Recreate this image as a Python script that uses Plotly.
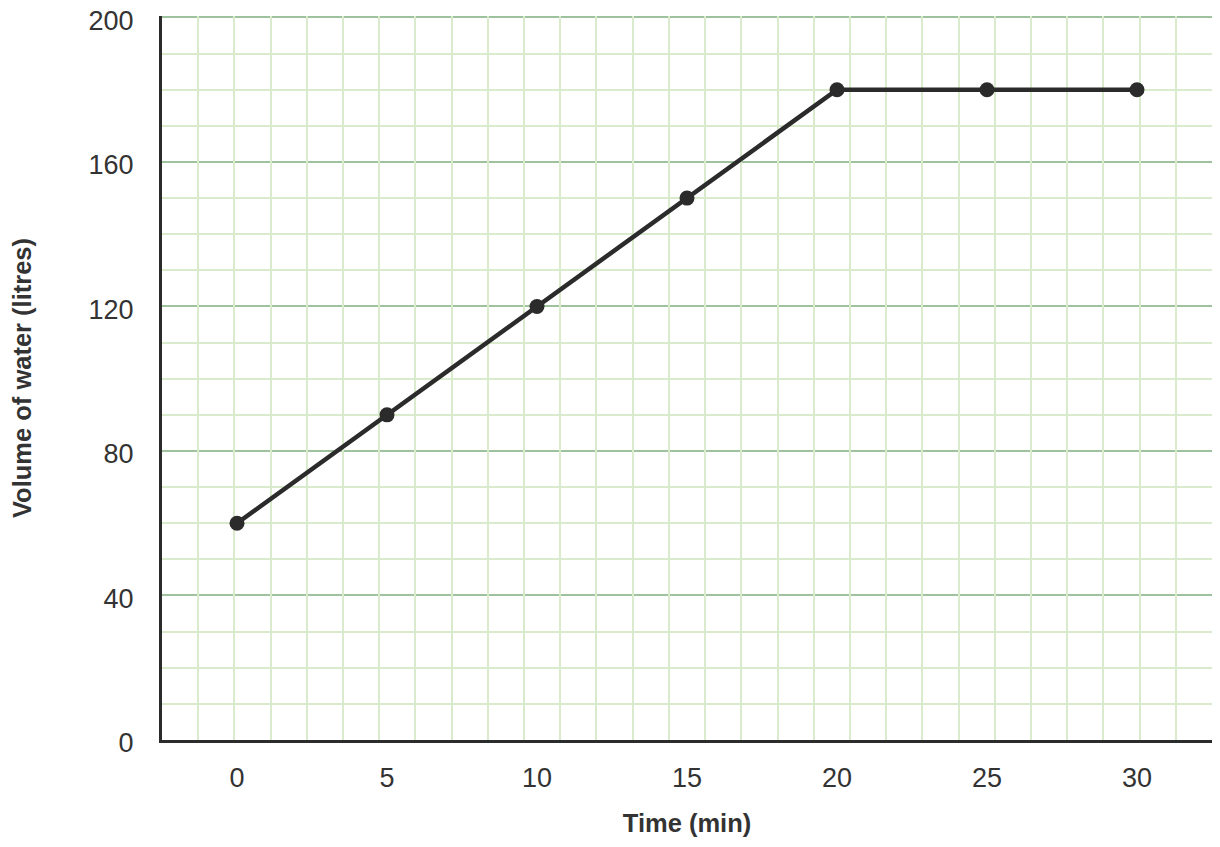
import plotly.graph_objects as go

# data
time_min = [0, 5, 10, 15, 20, 25, 30]
volume_litres = [60, 90, 120, 150, 180, 180, 180]

x_ticks = [0, 5, 10, 15, 20, 25, 30]
y_ticks = [0, 40, 80, 120, 160, 200]

dark = "#2b2b2b"
text_col = "#333333"
minor_green = "#d9eacd"
major_green = "#9dc29d"

fig = go.Figure()

# invisible trace so the square paper grid axis gets drawn
fig.add_trace(go.Scatter(x=[0, 29], y=[0, 0], xaxis="x2", mode="markers",
                         marker=dict(opacity=0), hoverinfo="skip", showlegend=False))

fig.add_trace(go.Scatter(
    x=time_min, y=volume_litres, mode="lines+markers",
    line=dict(color=dark, width=4.5),
    marker=dict(color=dark, size=15),
    showlegend=False,
))

# page body adds 8px, so the figure is a bit smaller than the window
fig.update_layout(
    width=1212, height=839,
    margin=dict(l=154, r=8, t=8, b=107),
    plot_bgcolor="white", paper_bgcolor="white",
    font=dict(family="Liberation Sans, Arial, sans-serif", color=text_col, size=27),
    xaxis=dict(
        range=[-2.5, 32.5], tickvals=x_ticks, showgrid=False, zeroline=False,
        showline=True, linecolor=dark, linewidth=3, ticks="",
        ticklabelstandoff=12, automargin=False,
        title=dict(text="<b>Time (min)</b>", font=dict(size=25.5), standoff=22),
    ),
    xaxis2=dict(
        overlaying="x", range=[0, 29], dtick=1, showgrid=True,
        gridcolor=minor_green, gridwidth=2, showticklabels=False,
        zeroline=False, showline=False, ticks="", automargin=False,
    ),
    yaxis=dict(
        range=[0, 200.4], tickvals=y_ticks, showgrid=True, gridcolor=major_green,
        gridwidth=2, zeroline=False, showline=True, linecolor=dark, linewidth=3,
        ticks="", ticklabelstandoff=20, ticklabelshift=3,
        automargin=False, ticklabeloverflow="allow",
        minor=dict(dtick=10, showgrid=True, gridcolor=minor_green, gridwidth=2),
        title=dict(text="<b>Volume of water (litres)</b>", font=dict(size=25.5), standoff=50),
    ),
)

fig.write_html("out.html")
